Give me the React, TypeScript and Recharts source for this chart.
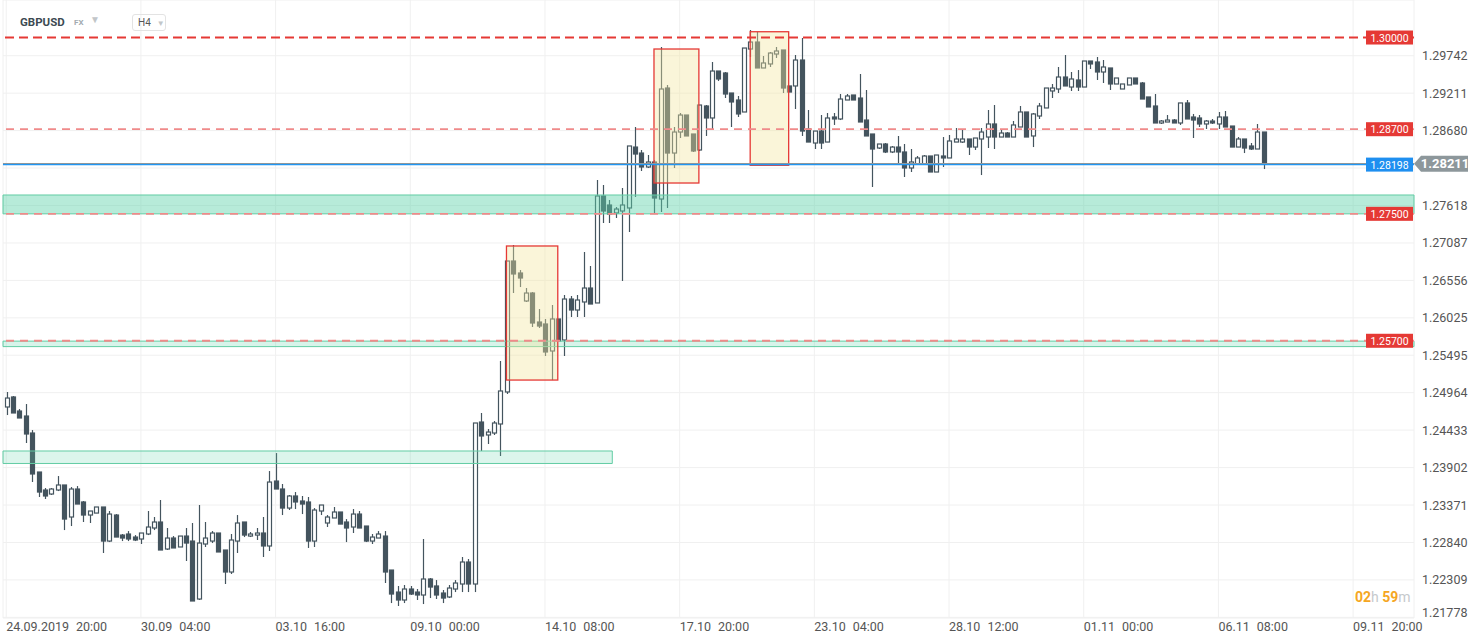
import React from 'react';
import {
  ComposedChart,
  Bar,
  XAxis,
  YAxis,
  CartesianGrid,
  ReferenceLine,
  ReferenceArea,
} from 'recharts';

// GBPUSD H4 candles, 24.09.2019 20:00 onwards
const opens = [
  1.24761, 1.24903, 1.24704, 1.24633, 1.24392, 1.23839, 1.23584, 1.23527, 1.23584, 1.23655,
  1.23201, 1.23598, 1.23414, 1.23229, 1.23257, 1.23343, 1.2286, 1.23229, 1.22945, 1.2296,
  1.22917, 1.22889, 1.2296, 1.23045, 1.2313, 1.22747, 1.22903, 1.22776, 1.22931, 1.2286,
  1.22038, 1.22818, 1.2286, 1.22974, 1.22733, 1.22421, 1.2286, 1.2313, 1.22931, 1.22945,
  1.22974, 1.2279, 1.23711, 1.23598, 1.23328, 1.23499, 1.23428, 1.23414, 1.2286, 1.23286,
  1.23116, 1.23187, 1.23272, 1.2313, 1.23059, 1.23243, 1.23073, 1.2286, 1.22903, 1.22931,
  1.22449, 1.22137, 1.22024, 1.2218, 1.22137, 1.22095, 1.22322, 1.22223, 1.22123, 1.22067,
  1.2218, 1.22251, 1.22563, 1.22251, 1.24548, 1.24364, 1.24392, 1.2452, 1.24974, 1.26831,
  1.26661, 1.26264, 1.26377, 1.25966, 1.25938, 1.25555, 1.26009, 1.25711, 1.26292, 1.26136,
  1.2625, 1.26448, 1.26236, 1.27753, 1.27625, 1.27512, 1.2754, 1.27583, 1.28447, 1.28362,
  1.28164, 1.28235, 1.2771, 1.29284, 1.28362, 1.2866, 1.28901, 1.28632, 1.28405, 1.29029,
  1.28859, 1.29525, 1.29497, 1.29213, 1.29114, 1.28944, 1.29837, 1.29936, 1.29568, 1.29625,
  1.29766, 1.29823, 1.29313, 1.29313, 1.29681, 1.28703, 1.28504, 1.28674, 1.28518, 1.28873,
  1.28845, 1.29114, 1.29185, 1.29142, 1.2883, 1.28632, 1.28433, 1.2849, 1.28377, 1.28447,
  1.28377, 1.2815, 1.28206, 1.28206, 1.2832, 1.28093, 1.2832, 1.28292, 1.28518, 1.28518,
  1.28561, 1.28447, 1.28561, 1.28589, 1.28774, 1.28589, 1.28646, 1.28589, 1.28731, 1.28944,
  1.28604, 1.28887, 1.29001, 1.29242, 1.2927, 1.2944, 1.29298, 1.29398, 1.29298, 1.29667,
  1.29653, 1.29511, 1.29568, 1.29341, 1.2927, 1.29327, 1.29426, 1.29355, 1.29157, 1.29029,
  1.28788, 1.28802, 1.2883, 1.28788, 1.29072, 1.28873, 1.28859, 1.28774, 1.28816, 1.28774,
  1.28873, 1.28745, 1.28447, 1.28561, 1.28462, 1.28419, 1.2866,
];
const highs = [
  1.24974, 1.24917, 1.24732, 1.24803, 1.24434, 1.23839, 1.23612, 1.23612, 1.23782, 1.23655,
  1.23626, 1.2364, 1.23428, 1.23286, 1.23343, 1.23343, 1.23286, 1.23243, 1.2296, 1.23002,
  1.22945, 1.22974, 1.23286, 1.23201, 1.23442, 1.23045, 1.22931, 1.22931, 1.23045, 1.23116,
  1.23371, 1.2313, 1.23002, 1.22974, 1.22733, 1.2296, 1.23229, 1.2313, 1.22988, 1.23045,
  1.23201, 1.23853, 1.24108, 1.23669, 1.23513, 1.23555, 1.23499, 1.23485, 1.23328, 1.23371,
  1.23229, 1.23343, 1.23272, 1.23172, 1.23314, 1.23286, 1.23073, 1.2296, 1.23002, 1.23002,
  1.22449, 1.22223, 1.22237, 1.22223, 1.2218, 1.22889, 1.22336, 1.22307, 1.22166, 1.22237,
  1.22307, 1.22634, 1.22606, 1.24534, 1.24676, 1.24449, 1.24562, 1.25413, 1.26831, 1.27058,
  1.26703, 1.26448, 1.26391, 1.2615, 1.26009, 1.26207, 1.26009, 1.26349, 1.26335, 1.26349,
  1.26959, 1.2676, 1.2798, 1.27909, 1.27696, 1.27597, 1.27866, 1.28462, 1.28731, 1.28405,
  1.28334, 1.28263, 1.29866, 1.29327, 1.28731, 1.2893, 1.28901, 1.28632, 1.29043, 1.29043,
  1.29653, 1.29525, 1.29511, 1.29213, 1.29171, 1.29851, 1.30107, 1.30078, 1.29738, 1.29795,
  1.29866, 1.29823, 1.29313, 1.29752, 1.29993, 1.28972, 1.28674, 1.28901, 1.2893, 1.2893,
  1.29199, 1.29199, 1.29185, 1.29483, 1.29256, 1.28632, 1.2849, 1.28504, 1.28462, 1.28604,
  1.2849, 1.28419, 1.2832, 1.28334, 1.2832, 1.28334, 1.28589, 1.28618, 1.28717, 1.28703,
  1.28561, 1.28575, 1.28717, 1.28972, 1.29043, 1.28703, 1.2866, 1.28816, 1.29029, 1.28944,
  1.2893, 1.29072, 1.29284, 1.29341, 1.29582, 1.29752, 1.29511, 1.29539, 1.29667, 1.29667,
  1.29724, 1.29681, 1.29568, 1.29426, 1.29341, 1.29426, 1.29426, 1.29369, 1.29157, 1.29199,
  1.2883, 1.28901, 1.28845, 1.29072, 1.29114, 1.28916, 1.28901, 1.2883, 1.28845, 1.28944,
  1.28958, 1.28745, 1.28589, 1.28561, 1.28504, 1.28774, 1.2866,
];
const lows = [
  1.24647, 1.24676, 1.24605, 1.2425, 1.23697, 1.23485, 1.23456, 1.23513, 1.23569, 1.23016,
  1.23073, 1.23385, 1.2313, 1.23116, 1.23257, 1.22691, 1.22846, 1.22917, 1.2286, 1.2286,
  1.2286, 1.22818, 1.22945, 1.23016, 1.22733, 1.22733, 1.22762, 1.22776, 1.22577, 1.2201,
  1.22024, 1.22776, 1.22832, 1.22705, 1.22251, 1.22393, 1.22691, 1.22917, 1.22917, 1.22875,
  1.22634, 1.22719, 1.23598, 1.23229, 1.233, 1.23314, 1.23243, 1.22762, 1.22776, 1.23229,
  1.23059, 1.23187, 1.23101, 1.22846, 1.22974, 1.23045, 1.22846, 1.22818, 1.22903, 1.22265,
  1.21981, 1.21939, 1.21981, 1.22095, 1.22024, 1.21967, 1.22052, 1.22038, 1.21981, 1.22052,
  1.22137, 1.22137, 1.22137, 1.22137, 1.24137, 1.24236, 1.24364, 1.24066, 1.24945, 1.26377,
  1.26462, 1.2625, 1.25895, 1.25881, 1.25484, 1.25143, 1.25697, 1.25484, 1.26037, 1.26037,
  1.26037, 1.26221, 1.26236, 1.2737, 1.2737, 1.27441, 1.26548, 1.27242, 1.27739, 1.28107,
  1.2815, 1.27497, 1.27526, 1.27583, 1.2815, 1.28575, 1.28604, 1.28377, 1.28391, 1.28604,
  1.28689, 1.29383, 1.29142, 1.28731, 1.28873, 1.28944, 1.29724, 1.29568, 1.29568, 1.29582,
  1.2971, 1.29213, 1.29227, 1.28986, 1.28604, 1.28518, 1.28419, 1.28419, 1.28518, 1.2876,
  1.2883, 1.29114, 1.29114, 1.28802, 1.28604, 1.2788, 1.28419, 1.28362, 1.28362, 1.28219,
  1.28022, 1.28093, 1.28192, 1.28192, 1.28093, 1.28093, 1.28164, 1.28292, 1.28518, 1.28504,
  1.28334, 1.28405, 1.2805, 1.28433, 1.28419, 1.28589, 1.28589, 1.28589, 1.28731, 1.28589,
  1.28447, 1.28845, 1.29001, 1.29142, 1.29213, 1.29313, 1.29242, 1.29242, 1.29298, 1.29554,
  1.29398, 1.29355, 1.29256, 1.29341, 1.2927, 1.29327, 1.29341, 1.29128, 1.29015, 1.28788,
  1.28774, 1.28802, 1.28788, 1.2876, 1.28845, 1.28575, 1.28731, 1.28703, 1.28774, 1.28703,
  1.28731, 1.28447, 1.28447, 1.28362, 1.28405, 1.28419, 1.28135,
];
const closes = [
  1.24888, 1.24676, 1.24605, 1.24378, 1.23811, 1.23555, 1.23499, 1.23598, 1.23655, 1.23172,
  1.23598, 1.23385, 1.23229, 1.23286, 1.23343, 1.2286, 1.23243, 1.22917, 1.22903, 1.22889,
  1.22875, 1.22974, 1.23059, 1.2313, 1.22733, 1.22903, 1.22762, 1.22931, 1.22832, 1.2201,
  1.22832, 1.22903, 1.22974, 1.22705, 1.22421, 1.22875, 1.23116, 1.22945, 1.2296, 1.22974,
  1.2279, 1.23697, 1.23598, 1.23328, 1.23499, 1.23414, 1.23385, 1.2286, 1.233, 1.23371,
  1.23201, 1.23272, 1.23101, 1.23045, 1.23243, 1.23045, 1.2286, 1.22917, 1.2296, 1.22421,
  1.22109, 1.22024, 1.2218, 1.22109, 1.22095, 1.22322, 1.22208, 1.22095, 1.22052, 1.22194,
  1.22265, 1.22563, 1.22251, 1.24534, 1.2435, 1.24406, 1.24534, 1.24988, 1.26831, 1.26647,
  1.2659, 1.26377, 1.25952, 1.25909, 1.25541, 1.26009, 1.25697, 1.26292, 1.26136, 1.26278,
  1.26448, 1.26221, 1.27753, 1.2754, 1.27497, 1.27568, 1.27625, 1.28462, 1.28348, 1.28164,
  1.28235, 1.27724, 1.2927, 1.28362, 1.2866, 1.28901, 1.28604, 1.28391, 1.29043, 1.28859,
  1.29525, 1.29412, 1.29199, 1.29086, 1.28916, 1.29851, 1.29936, 1.29568, 1.29639, 1.2978,
  1.29809, 1.29284, 1.29227, 1.29681, 1.28674, 1.28518, 1.28674, 1.28504, 1.28859, 1.28845,
  1.29128, 1.29171, 1.29114, 1.28802, 1.28604, 1.28419, 1.2849, 1.28377, 1.28447, 1.28377,
  1.2815, 1.28235, 1.28292, 1.2832, 1.28093, 1.28334, 1.28292, 1.28533, 1.28561, 1.28561,
  1.28447, 1.28575, 1.2866, 1.28774, 1.28589, 1.28646, 1.28589, 1.2876, 1.28944, 1.28589,
  1.28916, 1.29029, 1.29284, 1.29284, 1.2944, 1.29313, 1.29412, 1.29298, 1.29667, 1.29625,
  1.29511, 1.29582, 1.29341, 1.29426, 1.29341, 1.29426, 1.29341, 1.29128, 1.29015, 1.28788,
  1.28816, 1.2883, 1.28788, 1.29072, 1.28845, 1.2883, 1.28774, 1.28816, 1.28788, 1.28873,
  1.28731, 1.28447, 1.28561, 1.28433, 1.28419, 1.2866, 1.28211,
];

const timeTicks = [0, 21, 42, 63, 84, 105, 126, 147, 168, 189, 210];
const timeLabels = [
  '24.09.2019 20:00', '30.09 04:00', '03.10 16:00', '09.10 00:00', '14.10 08:00', '17.10 20:00',
  '23.10 04:00', '28.10 12:00', '01.11 00:00', '06.11 08:00', '09.11 20:00',
];
const priceTicks = [
  1.21778, 1.22309, 1.2284, 1.23371, 1.23902, 1.24433, 1.24964, 1.25495, 1.26025,
  1.26556, 1.27087, 1.27618, 1.28149, 1.2868, 1.29211, 1.29742,
];
const priceDomain = [1.21769, 1.30532];

// horizontal levels
const redLevels = [1.3, 1.287, 1.275, 1.257];
const bidPrice = 1.28198;
const lastPrice = 1.28211;

// green zones [low, high] and the one short zone on the left
const zones = [
  [1.275, 1.27767],
  [1.25617, 1.25695],
];
const shortZone = { from: 0, to: 94, low: 1.2396, high: 1.24137 };

// yellow boxes: candle index range and price range
const boxes = [
  { from: 78, to: 86, low: 1.25143, high: 1.27044 },
  { from: 101, to: 108, low: 1.27937, high: 1.29837 },
  { from: 116, to: 122, low: 1.28188, high: 1.30082 },
];

const SLOTS = 220;
const DARK = '#44545e';
const FONT = 'Roboto, sans-serif';

const data = [
  ...opens.map((o, i) => ({ i, o, h: highs[i], l: lows[i], c: closes[i], range: [lows[i], highs[i]] })),
  ...Array.from({ length: SLOTS - opens.length }, (_, k) => ({ i: opens.length + k })),
];

const Candle = (props: any) => {
  const { x, y, width, height, payload } = props;
  if (!payload || payload.o == null) return <g />;
  const top = Math.min(y, y + height);
  const bot = Math.max(y, y + height);
  const span = payload.h - payload.l;
  const toY = (p: number) => (span === 0 ? top : top + ((payload.h - p) / span) * (bot - top));
  const up = payload.c >= payload.o;
  const yo = toY(payload.o);
  const yc = toY(payload.c);
  const bTop = Math.min(yo, yc);
  const bH = Math.max(Math.abs(yo - yc), 1);
  const cx = Math.round(x + width / 2) + 0.5;
  return (
    <g>
      <line x1={cx} x2={cx} y1={top} y2={bot} stroke={DARK} strokeWidth={1.2} />
      <rect x={cx - 2} y={bTop} width={4} height={bH} fill={up ? '#fff' : DARK} stroke={DARK} strokeWidth={1.2} />
    </g>
  );
};

const TimeTick = ({ x, y, payload }: any) => {
  const k = timeTicks.indexOf(payload.value);
  if (k < 0) return <g />;
  const [d, t] = timeLabels[k].split(' ');
  return (
    <text x={x} y={y + 4.5} fill="#555" fontSize={12.5} fontFamily={FONT}>
      <tspan>{d}</tspan>
      <tspan dx={7}>{t}</tspan>
    </text>
  );
};

const PriceTick = ({ x, y, payload }: any) => {
  // the 1.28149 label sits behind the last-price tag
  if (payload.value === 1.28149) return <g />;
  const shift = payload.value === priceTicks[0] ? -5 : 0;
  return (
    <text x={x} y={y + 4.5 + shift} fill="#555" fontSize={12.5} fontFamily={FONT}>
      {payload.value.toFixed(5)}
    </text>
  );
};

const LevelTag = ({ viewBox, text, color }: any) => {
  if (!viewBox) return null;
  const right = viewBox.x + viewBox.width;
  const y = viewBox.y;
  return (
    <g>
      <rect x={right - 48} y={y - 7} width={47} height={14} fill={color} />
      <text x={right - 24.5} y={y + 4} textAnchor="middle" fill="#fff" fontSize={10.5} fontFamily={FONT}>
        {text}
      </text>
    </g>
  );
};

const LastTag = ({ viewBox, text }: any) => {
  if (!viewBox) return null;
  const r = viewBox.x + viewBox.width;
  const y = viewBox.y;
  return (
    <g>
      <polygon
        points={`${r},${y} ${r + 7},${y - 8} ${r + 54},${y - 8} ${r + 54},${y + 8} ${r + 7},${y + 8}`}
        fill="#8d979b"
      />
      <text x={r + 31} y={y + 4.5} textAnchor="middle" fill="#fff" fontSize={13} fontWeight="bold" fontFamily={FONT}>
        {text}
      </text>
    </g>
  );
};

// shrink a box by half a slot on each side so it runs from candle centre to candle centre
const CentreBox = (props: any) => {
  const { x, y, width, height, slots } = props;
  const inset = width / slots / 2;
  return (
    <rect
      x={x + inset}
      y={y}
      width={width - 2 * inset}
      height={height}
      fill="#f2e6a0"
      fillOpacity={0.4}
      stroke="#e53935"
      strokeWidth={1.3}
    />
  );
};

export default function App() {
  return (
    <div style={{ position: 'absolute', left: 0, top: 0, width: 1482, height: 643, background: '#fff', fontFamily: FONT }}>
      <ComposedChart width={1482} height={643} data={data} margin={{ top: 0, right: 0, bottom: 0, left: 3 }}>
        <CartesianGrid stroke="#f0f0f0" />
        <XAxis
          dataKey="i"
          type="category"
          ticks={timeTicks}
          interval={0}
          axisLine={false}
          tickLine={false}
          height={25}
          tick={<TimeTick />}
        />
        <YAxis
          orientation="right"
          type="number"
          domain={priceDomain}
          allowDataOverflow
          ticks={priceTicks}
          interval={0}
          width={68}
          axisLine={false}
          tickLine={false}
          tick={<PriceTick />}
        />
        <Bar dataKey="range" barSize={5} shape={<Candle />} isAnimationActive={false} />

        {zones.map((z, k) => (
          <ReferenceArea
            key={`zone-${k}`}
            y1={z[0]}
            y2={z[1]}
            fill="#5fd3aa"
            fillOpacity={k === 0 ? 0.45 : 0.25}
            stroke="#62cca4"
            strokeWidth={1}
            zIndex={350}
          />
        ))}
        <ReferenceArea
          x1={shortZone.from}
          x2={shortZone.to}
          y1={shortZone.low}
          y2={shortZone.high}
          fill="#5fd3aa"
          fillOpacity={0.22}
          stroke="#62cca4"
          strokeWidth={1}
          zIndex={350}
        />
        {boxes.map((b, k) => (
          <ReferenceArea
            key={`box-${k}`}
            x1={b.from}
            x2={b.to}
            y1={b.low}
            y2={b.high}
            zIndex={360}
            shape={(p: any) => <CentreBox {...p} slots={b.to - b.from + 1} />}
          />
        ))}

        {redLevels.map((v, k) => (
          <ReferenceLine
            key={`lvl-${k}`}
            y={v}
            stroke={k === 0 ? '#e53935' : '#f08a8a'}
            strokeWidth={k === 0 ? 2 : 1.8}
            strokeDasharray={k === 0 ? '9 5' : '8 6'}
            zIndex={450}
            label={<LevelTag text={v.toFixed(5)} color="#e53935" />}
          />
        ))}
        <ReferenceLine
          y={lastPrice}
          stroke="#8d979b"
          strokeWidth={1.5}
          zIndex={455}
          label={<LastTag text={lastPrice.toFixed(5)} />}
        />
        <ReferenceLine
          y={bidPrice}
          stroke="#2196f3"
          strokeWidth={1.3}
          zIndex={456}
          label={<LevelTag text={bidPrice.toFixed(5)} color="#1e8ff0" />}
        />
      </ComposedChart>

      <div style={{ position: 'absolute', left: 20, top: 15, fontSize: 11.5, fontWeight: 'bold', color: '#3d4a52' }}>
        GBPUSD
      </div>
      <div style={{ position: 'absolute', left: 74, top: 18, fontSize: 8, fontWeight: 'bold', color: '#a3abb0' }}>
        FX
      </div>
      <div style={{ position: 'absolute', left: 90, top: 14, fontSize: 10, color: '#c2c6c9' }}>▼</div>
      <div
        style={{
          position: 'absolute',
          left: 132,
          top: 14,
          width: 34,
          height: 17,
          border: '1px solid #e3e3e3',
          borderRadius: 3,
          fontSize: 10,
          color: '#555',
          lineHeight: '15px',
          paddingLeft: 5,
          boxSizing: 'border-box',
          whiteSpace: 'nowrap',
        }}
      >
        H4<span style={{ fontSize: 8, color: '#c2c6c9', marginLeft: 6 }}>▼</span>
      </div>
      <div style={{ position: 'absolute', left: 1355, top: 589, fontSize: 14, fontWeight: 'bold' }}>
        <span style={{ color: '#f5a623' }}>02</span>
        <span style={{ color: '#c5c9cc', fontWeight: 'normal' }}>h </span>
        <span style={{ color: '#f5a623' }}>59</span>
        <span style={{ color: '#c5c9cc', fontWeight: 'normal' }}>m</span>
      </div>
    </div>
  );
}
